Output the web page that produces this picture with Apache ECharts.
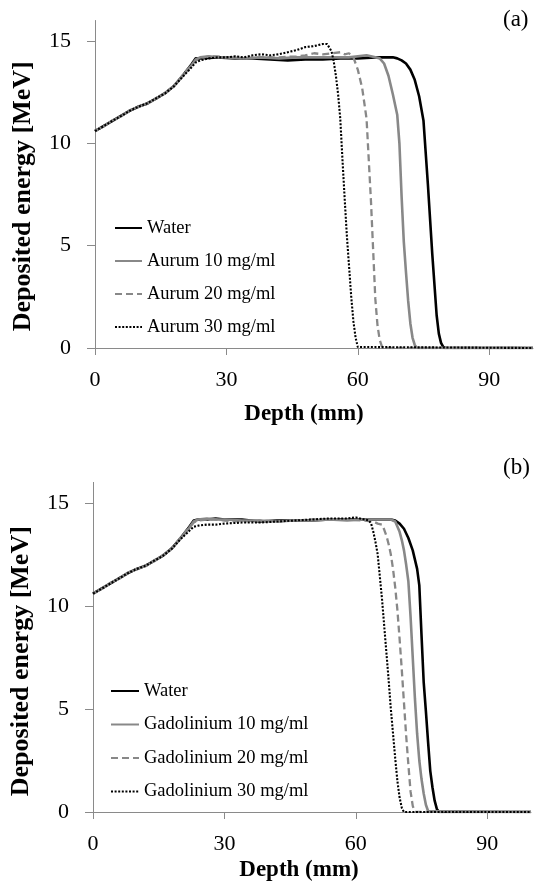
<!DOCTYPE html>
<html>
<head>
<meta charset="utf-8">
<script src="https://cdn.jsdelivr.net/npm/echarts@6/dist/echarts.min.js"></script>
<style>
html,body{margin:0;padding:0;background:#fff;}
#chart{width:537px;height:887px;}
</style>
</head>
<body>
<div id="chart"></div>
<script>
// ---- Data ----
const xTicks = [0, 30, 60, 90];
const yTicks = [0, 5, 10, 15];
const yAxisTitle = 'Deposited energy [MeV]';
const xAxisTitle = 'Depth (mm)';
const panelLabels = ['(a)', '(b)'];
const namesA = ['Water', 'Aurum 10 mg/ml', 'Aurum 20 mg/ml', 'Aurum 30 mg/ml'];
const namesB = ['Water', 'Gadolinium 10 mg/ml', 'Gadolinium 20 mg/ml', 'Gadolinium 30 mg/ml'];

// Panel (a)
const waterA_depth = [0,2,4,6,8,10,12,14,16,18,20,22,23,24,28,32,36,40,44,48,52,56,60,64,68,69,70,71,72,73,74,75,76,77,78,78.5,79,79.5,80,100];
const waterA_energy = [10.6,10.85,11.1,11.35,11.6,11.8,11.95,12.2,12.45,12.8,13.3,13.85,14.15,14.15,14.2,14.15,14.15,14.1,14.05,14.1,14.1,14.15,14.15,14.2,14.2,14.15,14.05,13.9,13.6,13.1,12.3,11.1,8.0,4.6,1.6,0.7,0.25,0.05,0,0];

const au10_depth = [0,2,4,6,8,10,12,14,16,18,20,22,23,24,26,28,30,34,38,42,46,50,54,58,62,64,65,66,67,68,69,69.5,70,70.5,71,71.5,72,72.5,73,73.5,100];
const au10_energy = [10.62,10.83,11.12,11.33,11.62,11.78,11.97,12.18,12.47,12.78,13.28,13.8,14.1,14.2,14.25,14.2,14.2,14.15,14.2,14.15,14.2,14.2,14.2,14.2,14.3,14.2,14.15,13.9,13.3,12.4,11.4,10.0,7.4,5.2,3.7,2.3,1.2,0.5,0.15,0,0];

const au20_depth = [0,2,4,6,8,10,12,14,16,18,20,22,23,24,26,28,30,34,38,42,46,48,50,52,54,56,57,58,59,60,61,62,63,64,64.5,65,65.5,66,100];
const au20_energy = [10.58,10.86,11.08,11.36,11.58,11.82,11.93,12.22,12.43,12.82,13.32,13.82,14.05,14.15,14.25,14.25,14.2,14.15,14.2,14.2,14.25,14.3,14.4,14.35,14.4,14.45,14.35,14.4,14.2,13.6,12.7,11.2,7.2,2.4,1.1,0.4,0.08,0,0];

const au30_depth = [0,2,4,6,8,10,12,14,16,18,20,22,23,24,26,28,30,32,34,36,38,40,42,44,46,48,50,52,53,54,54.5,55,55.5,56,56.5,57,57.5,58,58.5,59,59.5,60,100];
const au30_energy = [10.6,10.84,11.1,11.34,11.6,11.8,11.96,12.2,12.44,12.78,13.25,13.7,13.95,14.05,14.15,14.2,14.2,14.25,14.2,14.3,14.35,14.3,14.35,14.45,14.55,14.7,14.75,14.85,14.85,14.5,14.0,13.3,12.4,11.2,9.2,7.3,5.5,4.0,2.5,1.3,0.5,0.05,0];

// Panel (b)
const waterB_depth = [0,2,4,6,8,10,12,14,16,18,20,22,23,24,26,28,30,34,38,42,46,50,54,58,62,66,68,69,70,71,72,73,74,74.5,75,75.5,76,76.5,77,77.5,78,78.5,79,100];
const waterB_energy = [10.6,10.85,11.1,11.35,11.6,11.8,11.95,12.2,12.45,12.8,13.3,13.85,14.15,14.2,14.2,14.25,14.2,14.2,14.1,14.15,14.15,14.15,14.2,14.2,14.2,14.2,14.2,14.15,14.0,13.75,13.3,12.7,11.8,11.0,8.6,6.3,4.9,3.4,2.0,1.2,0.55,0.15,0,0];

const gd10_depth = [0,2,4,6,8,10,12,14,16,18,20,22,23,24,26,28,30,34,38,42,46,50,54,58,62,66,68,69,70,70.5,71,71.5,72,72.5,73,73.5,74,74.5,75,75.5,76,76.5,100];
const gd10_energy = [10.62,10.83,11.12,11.33,11.62,11.78,11.97,12.18,12.47,12.78,13.28,13.8,14.1,14.2,14.25,14.2,14.2,14.15,14.15,14.1,14.15,14.15,14.2,14.15,14.2,14.2,14.2,14.1,13.6,13.2,12.7,12.0,11.2,9.5,7.5,5.5,3.8,2.5,1.6,0.9,0.35,0.05,0];

const gd20_depth = [0,2,4,6,8,10,12,14,16,18,20,22,23,24,26,28,30,34,38,42,46,50,54,58,62,64,65,66,66.5,67,67.5,68,68.5,69,69.5,70,70.5,71,71.5,72,72.5,73,73.5,100];
const gd20_energy = [10.58,10.86,11.08,11.36,11.58,11.82,11.93,12.22,12.43,12.82,13.32,13.82,14.05,14.15,14.2,14.2,14.15,14.1,14.15,14.1,14.15,14.2,14.2,14.2,14.15,14.1,14.0,13.95,13.7,13.4,13.0,12.5,11.8,10.9,9.8,8.4,6.9,5.3,3.7,2.3,1.0,0.3,0,0];

const gd30_depth = [0,2,4,6,8,10,12,14,16,18,20,22,23,24,26,28,30,34,38,42,46,50,54,58,60,62,63,63.5,64,64.5,65,65.5,66,66.5,67,67.5,68,68.5,69,69.5,70,70.5,71,100];
const gd30_energy = [10.6,10.84,11.1,11.34,11.6,11.8,11.96,12.2,12.44,12.78,13.25,13.65,13.85,13.9,13.95,13.95,14.0,14.05,14.05,14.1,14.15,14.2,14.25,14.25,14.3,14.2,14.15,14.0,13.6,13.1,12.5,11.4,10.3,9.0,7.7,6.4,5.0,3.8,2.6,1.5,0.7,0.2,0,0];

// ---- Styling ----
const FONT = "'Liberation Serif', 'Times New Roman', serif";
const AXIS_GRAY = '#8a8a8a';
const LINE_GRAY = '#888888';
const styles = [
  { color: '#000000', width: 2.6, type: 'solid' },
  { color: LINE_GRAY, width: 2.6, type: 'solid' },
  { color: LINE_GRAY, width: 2.3, type: [7, 4] },
  { color: '#000000', width: 2.1, type: [2, 1.6] }
];

function zip(xs, ys) { return xs.map((x, i) => [x, ys[i]]); }

function makeXAxis(gi, padRight, gap) {
  return {
    gridIndex: gi, type: 'value', min: 0, max: 100, interval: 10,
    name: xAxisTitle, nameLocation: 'middle', nameGap: gap,
    nameTextStyle: { fontFamily: FONT, fontWeight: 'bold', fontSize: 23, color: '#000', padding: [0, padRight, 0, 0] },
    axisLine: { show: true, lineStyle: { color: AXIS_GRAY, width: 1 } },
    axisTick: { show: true, inside: false, length: 7, customValues: xTicks, lineStyle: { color: AXIS_GRAY } },
    axisLabel: { customValues: xTicks, margin: 21, fontFamily: FONT, fontSize: 22, color: '#000' },
    splitLine: { show: false }
  };
}
function makeYAxis(gi, padRight) {
  return {
    gridIndex: gi, type: 'value', min: 0, max: 16, interval: 1,
    name: yAxisTitle, nameLocation: 'middle', nameRotate: 90, nameGap: 59,
    nameTextStyle: { fontFamily: FONT, fontWeight: 'bold', fontSize: 26, color: '#000', padding: [0, padRight, 0, 0] },
    axisLine: { show: true, lineStyle: { color: AXIS_GRAY, width: 1 } },
    axisTick: { show: true, inside: false, length: 8, customValues: yTicks, lineStyle: { color: AXIS_GRAY } },
    axisLabel: { customValues: yTicks, margin: 24, fontFamily: FONT, fontSize: 22, color: '#000' },
    splitLine: { show: false }
  };
}
function makeSeries(name, idx, gi, data) {
  const s = styles[idx];
  return {
    name: name, type: 'line', xAxisIndex: gi, yAxisIndex: gi,
    data: data, symbol: 'none', showSymbol: false, smooth: false,
    lineStyle: { color: s.color, width: s.width, type: s.type },
    itemStyle: { color: s.color },
    emphasis: { disabled: true },
    z: 2 + idx
  };
}

const seriesA = [zip(waterA_depth, waterA_energy), zip(au10_depth, au10_energy), zip(au20_depth, au20_energy), zip(au30_depth, au30_energy)];
const seriesB = [zip(waterB_depth, waterB_energy), zip(gd10_depth, gd10_energy), zip(gd20_depth, gd20_energy), zip(gd30_depth, gd30_energy)];

const legendBase = {
  orient: 'vertical', padding: 0, itemHeight: 14, selectedMode: false,
  itemStyle: { opacity: 0 },
  textStyle: { fontFamily: FONT, fontSize: 18.5, color: '#000', lineHeight: 20 }
};

const chart = echarts.init(document.getElementById('chart'), null, { renderer: 'canvas' });
const option = {
  animation: false,
  backgroundColor: '#ffffff',
  title: [
    { text: panelLabels[0], left: 503, top: 8, padding: 0, textStyle: { fontFamily: FONT, fontWeight: 'normal', fontSize: 23, color: '#000' } },
    { text: panelLabels[1], left: 503, top: 456, padding: 0, textStyle: { fontFamily: FONT, fontWeight: 'normal', fontSize: 23, color: '#000' } }
  ],
  grid: [
    { left: 95, top: 20.5, width: 438, height: 327.5 },
    { left: 92, top: 482.4, width: 439, height: 329.6 }
  ],
  legend: [
    Object.assign({}, legendBase, { data: namesA.map(n => ({ name: n })), left: 114, top: 218, itemWidth: 27, itemGap: 13 }),
    Object.assign({}, legendBase, { data: namesB.map(n => ({ name: n })), left: 110, top: 681, itemWidth: 28, itemGap: 13.5 })
  ],
  xAxis: [makeXAxis(0, 20, 55), makeXAxis(1, 26, 47)],
  yAxis: [makeYAxis(0, 24), makeYAxis(1, 28)],
  series: [
    ...namesA.map((n, i) => makeSeries(n, i, 0, seriesA[i])),
    ...namesB.map((n, i) => makeSeries(n, i, 1, seriesB[i]))
  ]
};
chart.setOption(option);
</script>
</body>
</html>
